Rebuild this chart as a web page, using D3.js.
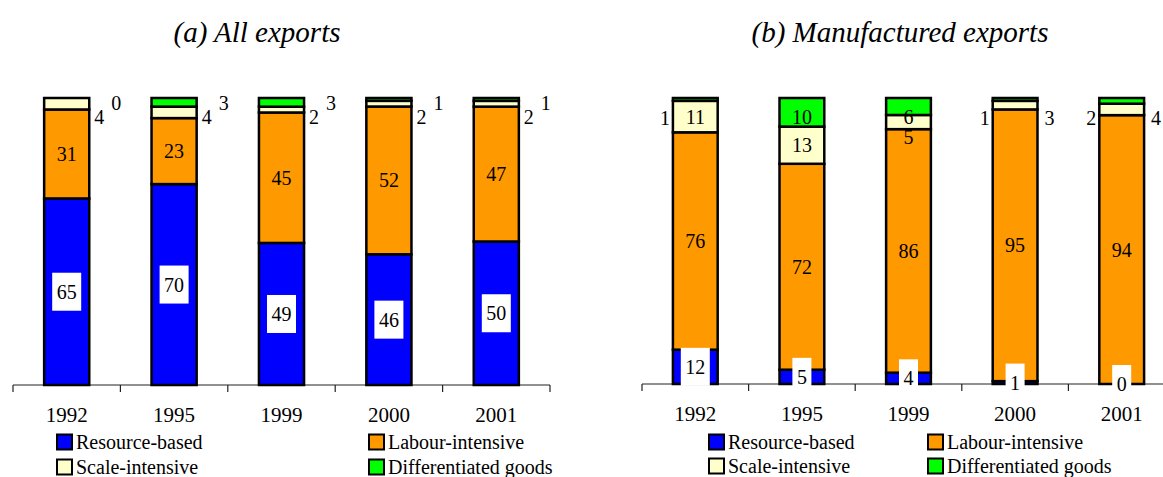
<!DOCTYPE html>
<html>
<head>
<meta charset="utf-8">
<script src="https://cdn.jsdelivr.net/npm/d3@7/dist/d3.min.js"></script>
<style>
  html, body { margin: 0; padding: 0; background: #fff; }
  svg { display: block; font-family: "Liberation Serif", "Times New Roman", serif; }
  text { font-family: "Liberation Serif", "Times New Roman", serif; fill: #000; }
</style>
</head>
<body>
<svg id="chart" width="1163" height="477"></svg>
<script>
// Export structure by product category (shares, %)
const years = ["1992", "1995", "1999", "2000", "2001"];
const categories = ["Resource-based", "Labour-intensive", "Scale-intensive", "Differentiated goods"];
const categoryColors = ["#0000ff", "#ff9900", "#ffffcc", "#00ff00"];

// (a) All exports
const allResource = [65, 70, 49, 46, 50];
const allLabour   = [31, 23, 45, 52, 47];
const allScale    = [4, 4, 2, 2, 2];
const allDiff     = [0, 3, 3, 1, 1];

// (b) Manufactured exports
const mfgResource = [12, 5, 4, 1, 0];
const mfgLabour   = [76, 72, 86, 95, 94];
const mfgScale    = [11, 13, 5, 3, 4];
const mfgDiff     = [1, 10, 6, 1, 2];

const svg = d3.select("#chart");

function rows(res, lab, sca, dif) {
  return years.map((y, i) => ({
    year: y,
    "Resource-based": res[i],
    "Labour-intensive": lab[i],
    "Scale-intensive": sca[i],
    "Differentiated goods": dif[i]
  }));
}

function drawPanel(cfg) {
  const g = svg.append("g");
  const data = rows(...cfg.values);

  const x = d3.scaleBand().domain(years).range([cfg.x0, cfg.x1])
    .paddingInner(0.58).paddingOuter(0.29);
  const y = d3.scaleLinear().domain([0, 1]).range([cfg.base, cfg.top]);

  // 100% stacked columns
  const stacked = d3.stack().keys(categories).offset(d3.stackOffsetExpand)(data);

  // title
  g.append("text")
    .attr("x", cfg.titleX).attr("y", 42)
    .attr("text-anchor", "middle")
    .style("font-size", "29px").style("font-style", "italic")
    .text(cfg.title);

  // category axis, tick marks on the band boundaries
  const axis = g.append("g").attr("transform", `translate(0,${cfg.axisY})`)
    .call(d3.axisBottom(x).tickSize(0).tickPadding(22));
  axis.attr("font-family", null);
  axis.select(".domain").remove();
  axis.selectAll("text").style("font-size", "21px").attr("fill", "#000");
  g.append("line")
    .attr("x1", cfg.x0).attr("x2", Math.min(cfg.x1, 1163))
    .attr("y1", cfg.axisY).attr("y2", cfg.axisY)
    .attr("stroke", "#222").attr("stroke-width", 1.2);
  d3.range(years.length + 1).forEach(i => {
    const tx = cfg.x0 + i * x.step();
    g.append("line")
      .attr("x1", tx).attr("x2", tx)
      .attr("y1", cfg.axisY).attr("y2", cfg.axisY + 7)
      .attr("stroke", "#222").attr("stroke-width", 1.2);
  });

  // stacked bars
  stacked.forEach((layer, li) => {
    g.append("g").selectAll("rect").data(layer).join("rect")
      .attr("x", d => x(d.data.year))
      .attr("width", x.bandwidth())
      .attr("y", d => y(d[1]))
      .attr("height", d => y(d[0]) - y(d[1]))
      .attr("fill", categoryColors[li])
      .attr("stroke", "#000")
      .attr("stroke-width", 2.5);
  });

  // value labels
  const lbl = g.append("g").style("font-size", "20px");
  years.forEach((yr, i) => {
    const bx = x(yr), bw = x.bandwidth();
    const seg = stacked.map(layer => layer[i]);
    const pos = seg.map(d => ({ x: bx + bw / 2, y: (y(d[0]) + y(d[1])) / 2 }));

    // small top segments are labelled beside the column
    [2, 3].forEach(li => {
      if (seg[li].data[categories[li]] < 5) {
        const o = cfg.outside[li - 2];
        pos[li] = {
          x: (o.side === "right" ? bx + bw : bx) + o.dx,
          y: cfg.top + o.dy,
          out: true
        };
      }
    });

    // inside labels near the top are pushed down so they do not collide
    let floor = cfg.top + 19;
    [3, 2].forEach(li => {
      if (pos[li].out) return;
      pos[li].y = Math.max(pos[li].y, floor);
      floor = pos[li].y + 20;
    });

    seg.forEach((d, li) => {
      const p = pos[li];
      const t = lbl.append("text")
        .attr("x", p.x).attr("y", p.y).attr("dy", "0.35em")
        .attr("text-anchor", "middle")
        .text(d.data[categories[li]]);
      if (li === 0) {
        const w = t.node().getComputedTextLength() + 9;
        lbl.insert("rect", () => t.node())
          .attr("x", p.x - w / 2).attr("y", p.y - 19)
          .attr("width", w).attr("height", 38)
          .attr("fill", "#fff");
      }
    });
  });

  // legend
  const leg = g.append("g").style("font-size", "20px");
  categories.forEach((c, i) => {
    const lx = cfg.legendX[i % 2];
    const ly = cfg.legendY[Math.floor(i / 2)];
    leg.append("rect")
      .attr("x", lx).attr("y", ly - 7.5)
      .attr("width", 15).attr("height", 15)
      .attr("fill", categoryColors[i])
      .attr("stroke", "#000").attr("stroke-width", 2);
    leg.append("text")
      .attr("x", lx + 19).attr("y", ly).attr("dy", "0.35em")
      .text(c);
  });
}

drawPanel({
  values: [allResource, allLabour, allScale, allDiff],
  x0: 13, x1: 550, top: 98, base: 385, axisY: 385,
  title: "(a) All exports", titleX: 257,
  outside: [{ side: "right", dx: 10, dy: 19 }, { side: "right", dx: 27, dy: 5 }],
  legendX: [57, 369], legendY: [442, 467]
});

drawPanel({
  values: [mfgResource, mfgLabour, mfgScale, mfgDiff],
  x0: 642, x1: 1175, top: 98, base: 384, axisY: 384,
  title: "(b) Manufactured exports", titleX: 900,
  outside: [{ side: "right", dx: 12, dy: 20 }, { side: "left", dx: -8, dy: 20 }],
  legendX: [709, 928], legendY: [442, 466]
});
</script>
</body>
</html>
